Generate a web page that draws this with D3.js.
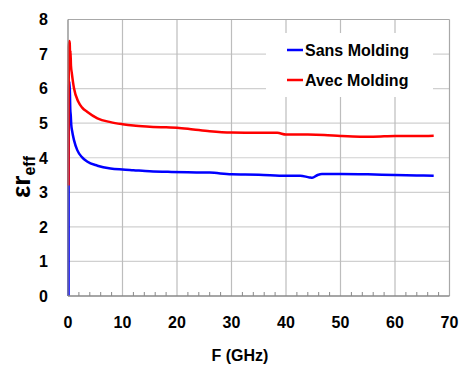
<!DOCTYPE html>
<html>
<head>
<meta charset="utf-8">
<script src="https://cdn.jsdelivr.net/npm/d3@7"></script>
<style>
  html, body { margin: 0; padding: 0; background: #fff; }
  svg { display: block; font-family: "Liberation Sans", Arial, sans-serif; font-weight: bold; }
</style>
</head>
<body>
<svg id="chart" width="460" height="366"></svg>
<script>
// ---- data ----
const seriesNames = ["Sans Molding", "Avec Molding"];
const seriesColors = ["#0000ff", "#ff0000"];
const xTicks = [0, 10, 20, 30, 40, 50, 60, 70];
const yTicks = [0, 1, 2, 3, 4, 5, 6, 7, 8];
const xLabel = "F (GHz)";

const freqSans = [0.1, 0.11, 0.13, 0.2, 0.3, 0.42, 0.5, 0.6, 0.75, 1.1, 1.7, 2.6, 3.5, 5.4, 7.8, 10, 12, 15, 19, 22, 26, 30, 35, 40, 42.6, 44.3, 44.8, 45.8, 46.6, 50, 55, 60, 64, 67.1];
const valSans  = [0, 3.2, 5.6, 6.1, 6.2, 5.4, 5.24, 4.95, 4.78, 4.51, 4.22, 4.01, 3.89, 3.77, 3.69, 3.66, 3.64, 3.61, 3.59, 3.58, 3.57, 3.52, 3.51, 3.48, 3.48, 3.43, 3.42, 3.5, 3.53, 3.53, 3.52, 3.5, 3.49, 3.48];

const freqAvec = [0.1, 0.12, 0.15, 0.25, 0.32, 0.4, 0.45, 0.55, 0.7, 1.1, 1.9, 2.6, 3.5, 5.4, 7.8, 10, 12, 15, 18, 20, 23, 26, 30, 35, 38.4, 40, 44, 47, 50, 53.6, 56, 60, 64, 67.1];
const valAvec  = [3.2, 5.5, 7.2, 7.38, 7.3, 6.9, 7.1, 6.65, 6.45, 6.01, 5.62, 5.45, 5.33, 5.14, 5.03, 4.97, 4.93, 4.9, 4.88, 4.87, 4.82, 4.77, 4.73, 4.72, 4.72, 4.67, 4.67, 4.66, 4.63, 4.61, 4.61, 4.63, 4.63, 4.64];

const seriesFreq = [freqSans, freqAvec];
const seriesVals = [valSans, valAvec];

// ---- layout ----
const svg = d3.select("#chart");
const pLeft = 68, pRight = 449.5, pTop = 19.5, pBottom = 296;
const x = d3.scaleLinear().domain([0, 70]).range([pLeft, pRight]);
const y = d3.scaleLinear().domain([0, 8]).range([pBottom, pTop]);

// gridlines
svg.append("g").selectAll("line").data(yTicks.filter(d => d > 0 && d < 8)).join("line")
  .attr("x1", pLeft).attr("x2", pRight)
  .attr("y1", d => y(d)).attr("y2", d => y(d))
  .attr("stroke", "#d0d0d0").attr("stroke-width", 1.2);
svg.append("g").selectAll("line").data(xTicks.filter(d => d > 0 && d < 70)).join("line")
  .attr("x1", d => x(d)).attr("x2", d => x(d))
  .attr("y1", pTop).attr("y2", pBottom)
  .attr("stroke", "#bdbdbd").attr("stroke-width", 1.2);

// minor ticks on x axis (inside)
const minor = d3.range(2, 70, 2).filter(d => d % 10 !== 0);
svg.append("g").selectAll("line").data(minor).join("line")
  .attr("x1", d => x(d)).attr("x2", d => x(d))
  .attr("y1", pBottom).attr("y2", pBottom - 4)
  .attr("stroke", "#888").attr("stroke-width", 1);

// frame
svg.append("line").attr("x1", pLeft).attr("x2", pRight).attr("y1", pTop).attr("y2", pTop).attr("stroke", "#a8a8a8").attr("stroke-width", 1.2);
svg.append("line").attr("x1", pRight).attr("x2", pRight).attr("y1", pTop).attr("y2", pBottom).attr("stroke", "#a8a8a8").attr("stroke-width", 1.2);

// legend box (white, covers grid)
svg.append("rect").attr("x", 266).attr("y", 33).attr("width", 167).attr("height", 64).attr("fill", "#fff");

// series
const line = d3.line().x(d => x(d[0])).y(d => y(d[1])).curve(d3.curveMonotoneX);
seriesNames.forEach((name, i) => {
  const pts = seriesFreq[i].map((f, k) => [f, seriesVals[i][k]]);
  svg.append("path").datum(pts)
    .attr("d", line)
    .attr("fill", "none")
    .attr("stroke", seriesColors[i])
    .attr("stroke-width", 2.5)
    .attr("stroke-linejoin", "round");
});

// axes lines (left & bottom)
svg.append("line").attr("x1", pLeft).attr("x2", pLeft).attr("y1", pTop).attr("y2", pBottom).attr("stroke", "#888").attr("stroke-width", 1.3);
svg.append("line").attr("x1", pLeft).attr("x2", pRight).attr("y1", pBottom).attr("y2", pBottom).attr("stroke", "#888").attr("stroke-width", 1.3);

// tick labels
svg.append("g").selectAll("text").data(xTicks).join("text")
  .attr("x", d => x(d)).attr("y", 328)
  .attr("text-anchor", "middle").attr("font-size", 16).attr("fill", "#000")
  .text(d => d);
svg.append("g").selectAll("text").data(yTicks).join("text")
  .attr("x", 48).attr("y", d => y(d)).attr("dy", "0.36em")
  .attr("text-anchor", "end").attr("font-size", 16).attr("fill", "#000")
  .text(d => d);

// axis titles
svg.append("text").attr("x", 240).attr("y", 361).attr("text-anchor", "middle")
  .attr("font-size", 16).attr("fill", "#000").text(xLabel);
const yt = svg.append("text").attr("transform", "translate(30,177) rotate(-90)")
  .attr("text-anchor", "middle").attr("fill", "#000");
yt.append("tspan").attr("font-size", 26).text("εr");
yt.append("tspan").attr("font-size", 16).attr("dy", 5).text("eff");

// legend
seriesNames.forEach((name, i) => {
  const ly = 50 + i * 30;
  svg.append("line").attr("x1", 287).attr("x2", 303).attr("y1", ly).attr("y2", ly)
    .attr("stroke", seriesColors[i]).attr("stroke-width", 2.5);
  svg.append("text").attr("x", 305).attr("y", ly + 6).attr("font-size", 16).attr("fill", "#000").text(name);
});
</script>
</body>
</html>
